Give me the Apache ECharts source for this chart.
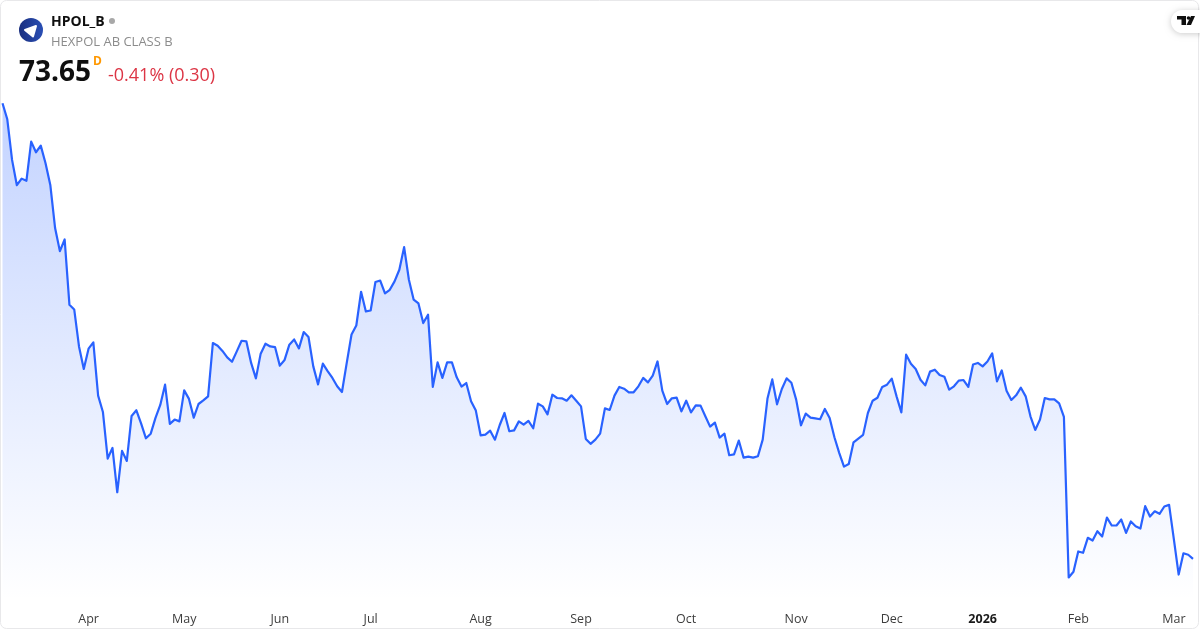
<!DOCTYPE html>
<html>
<head>
<meta charset="utf-8">
<style>
  html, body { margin: 0; padding: 0; background: #fff; }
  #chart { width: 1200px; height: 630px; }
</style>
<script src="https://cdn.jsdelivr.net/npm/echarts@6/dist/echarts.min.js"></script>
</head>
<body>
<div id="chart"></div>
<script>
const closes = [
  104.05, 102.98, 100.27, 98.58, 99.02, 98.87, 101.49, 100.78, 101.22, 100.05, 98.60, 95.72, 94.18, 94.96, 90.60, 90.29,
  87.82, 86.32, 87.67, 88.09, 84.54, 83.45, 80.34, 81.05, 78.09, 80.85, 80.18, 83.18, 83.56, 82.67, 81.69, 82.00,
  83.05, 83.92, 85.27, 82.65, 82.94, 82.82, 84.89, 84.32, 83.07, 83.98, 84.22, 84.49, 88.05, 87.87, 87.52, 87.09,
  86.80, 87.49, 88.20, 88.16, 86.72, 85.69, 87.34, 88.00, 87.82, 87.78, 86.54, 86.92, 87.94, 88.29, 87.69,
  88.78, 88.45, 86.49, 85.29, 86.67, 86.18, 85.72, 85.16, 84.78, 86.72, 88.62, 89.22, 91.47, 90.16, 90.22, 92.12,
  92.22, 91.36, 91.60, 92.16, 92.94, 94.45, 92.27, 90.94, 90.69, 89.38, 89.94, 85.12, 86.76, 85.72, 86.76, 86.76,
  85.76, 85.14, 85.38, 84.16, 83.54, 81.89, 81.94, 82.20, 81.60, 82.58, 83.38, 82.16, 82.22, 82.82, 82.60, 82.85,
  82.36, 84.00, 83.82, 83.29, 84.60, 84.38, 84.36, 84.20, 84.56, 84.20, 83.82, 81.65, 81.32, 81.60, 82.00,
  83.69, 83.58, 84.54, 85.12, 85.00, 84.76, 84.76, 85.16, 85.72, 85.42, 85.87, 86.82, 84.87, 83.98, 84.36, 84.40,
  83.49, 84.20, 83.42, 83.89, 83.87, 83.16, 82.47, 82.74, 81.74, 82.00, 80.56, 80.62, 81.54, 80.40, 80.47, 80.40,
  80.49, 81.60, 84.34, 85.62, 83.96, 84.98, 85.69, 85.40, 84.27, 82.56, 83.34, 83.07, 83.02, 82.96, 83.65, 83.05,
  81.76, 80.72, 79.80, 79.98, 81.42, 81.67, 81.92, 83.38, 84.20, 84.40, 85.12, 85.27, 85.67, 84.49,
  83.42, 87.27, 86.67, 86.32, 85.60, 85.22, 86.14, 86.27, 85.92, 85.80, 84.94, 85.16, 85.54, 85.58, 85.12, 86.62,
  86.72, 86.49, 86.82, 87.36, 85.49, 86.22, 84.87, 84.25, 84.56, 85.07, 84.49, 83.16, 82.25, 82.94, 84.38, 84.29,
  84.29, 84.02, 83.12, 72.40, 72.78, 74.14, 74.05, 75.05, 74.87, 75.49, 75.14, 76.40, 75.87, 75.87, 76.27, 75.38,
  76.14, 75.82, 75.67, 77.16, 76.47, 76.82, 76.65, 77.14, 77.25, 74.94, 72.60, 74.02, 73.92, 73.65
];
const tickLabels = ['Apr', 'May', 'Jun', 'Jul', 'Aug', 'Sep', 'Oct', 'Nov', 'Dec', '2026', 'Feb', 'Mar'];
const tickBars = [18, 38, 58, 77, 100, 121, 143, 166, 186, 205, 225, 245];
const bars = closes.map((v, i) => i);

const chart = echarts.init(document.getElementById('chart'), null, { renderer: 'canvas' });
const font = '"Open Sans", sans-serif';

chart.setOption({
  animation: false,
  backgroundColor: '#fff',
  grid: { left: 2.5, right: 7, top: 0, bottom: 30 },
  xAxis: {
    type: 'category',
    data: bars,
    boundaryGap: false,
    axisLine: { show: false },
    axisTick: { show: false },
    splitLine: { show: false },
    axisLabel: {
      interval: (i) => tickBars.includes(i),
      hideOverlap: false,
      margin: 13,
      fontFamily: font,
      fontSize: 12.5,
      color: '#3d3d3d',
      formatter: (v, i) => {
        const label = tickLabels[tickBars.indexOf(i)];
        return label === '2026' ? '{year|2026}' : label;
      },
      rich: { year: { fontFamily: font, fontSize: 12.5, fontWeight: 700, color: '#1a1a1a' } }
    }
  },
  yAxis: {
    type: 'value',
    min: 70.9,
    max: 110.94,
    show: false
  },
  series: [{
    type: 'line',
    data: closes,
    showSymbol: false,
    smooth: false,
    lineStyle: { color: '#2962ff', width: 2.2, join: 'round' },
    areaStyle: {
      origin: 'start',
      opacity: 1,
      color: {
        type: 'linear', x: 0, y: 0, x2: 0, y2: 1,
        colorStops: [
          { offset: 0, color: 'rgba(41,98,255,0.28)' },
          { offset: 1, color: 'rgba(41,98,255,0)' }
        ]
      }
    }
  }],
  graphic: [
    // card outline
    { type: 'rect', z: 20, shape: { x: 0.5, y: 0.5, width: 1198, height: 628, r: 6 }, style: { fill: 'none', stroke: '#e8e8ea', lineWidth: 1 } },
    // symbol logo
    { type: 'circle', z: 20, shape: { cx: 31, cy: 30, r: 12 }, style: {
      fill: { type: 'linear', x: 0, y: 0, x2: 1, y2: 0, colorStops: [{ offset: 0, color: '#1a2f7f' }, { offset: 1, color: '#2a4fb5' }] }
    } },
    { type: 'polygon', z: 21, shape: { points: [[25, 30], [36, 26], [33, 36.5]] }, style: { fill: '#fff', lineJoin: 'round', stroke: '#fff', lineWidth: 2 } },
    { type: 'text', z: 20, x: 51, y: 22, style: { text: 'HPOL_B', font: '700 14px ' + font, fill: '#0f0f0f', textVerticalAlign: 'middle' } },
    { type: 'circle', z: 20, shape: { cx: 112, cy: 21, r: 3 }, style: { fill: '#a8a8a8' } },
    { type: 'text', z: 20, x: 51, y: 42, style: { text: 'HEXPOL AB CLASS B', font: '13px ' + font, fill: '#8c8c8c', textVerticalAlign: 'middle' } },
    { type: 'text', z: 20, x: 19, y: 73, style: { text: '73.65', font: '700 28px ' + font, fill: '#0f0f0f', textVerticalAlign: 'middle' } },
    { type: 'text', z: 20, x: 93, y: 62, style: { text: 'D', font: '700 12px ' + font, fill: '#ff9800', textVerticalAlign: 'middle' } },
    { type: 'text', z: 20, x: 108, y: 76, style: { text: '-0.41% (0.30)', font: '18px ' + font, fill: '#dc3545', textVerticalAlign: 'middle' } },
    // TradingView badge
    { type: 'rect', z: 20, shape: { x: 1171, y: 10, width: 40, height: 23, r: 11.5 }, style: { fill: '#fff', shadowBlur: 6, shadowColor: 'rgba(0,0,0,0.2)', shadowOffsetY: 1 } },
    { type: 'polygon', z: 21, shape: { points: [[1177, 16], [1186, 16], [1186, 25], [1181.5, 25], [1181.5, 19.5], [1177, 19.5]] }, style: { fill: '#0f0f0f' } },
    { type: 'circle', z: 21, shape: { cx: 1188.5, cy: 18, r: 1.8 }, style: { fill: '#0f0f0f' } },
    { type: 'polygon', z: 21, shape: { points: [[1191, 16], [1195, 16], [1191, 25], [1186.5, 25]] }, style: { fill: '#0f0f0f' } }
  ]
});
</script>
</body>
</html>
